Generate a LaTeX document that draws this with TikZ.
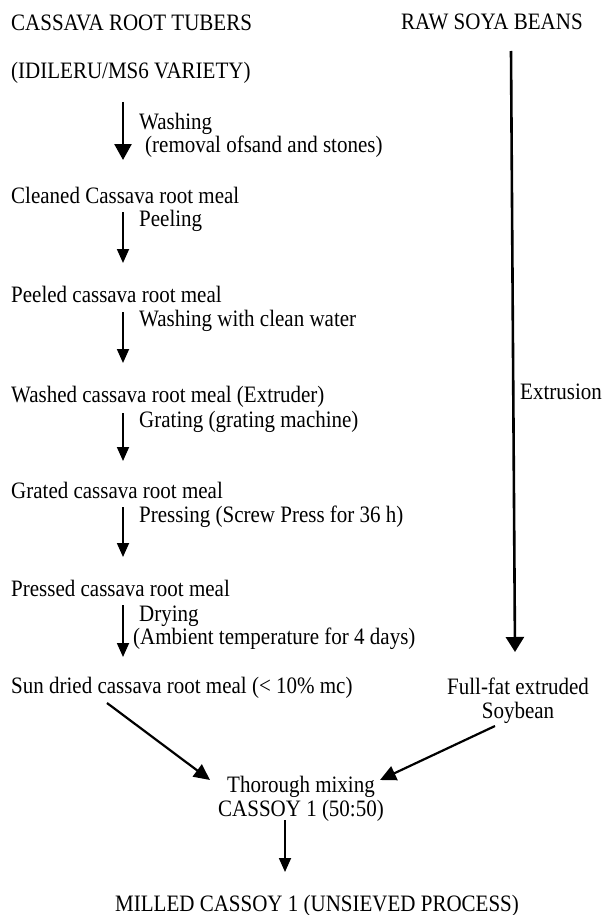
\documentclass[tikz,border=0pt]{standalone}
\usepackage{graphicx}
\usepackage{fontspec}
\setmainfont{Liberation Serif}
\usetikzlibrary{arrows.meta}
\newcommand{\sy}[1]{\scalebox{1}[1.12]{#1}}
\begin{document}
\begin{tikzpicture}[x=1pt,y=-1pt,
  lbl/.style={inner sep=0pt, anchor=base west, font=\fontsize{21}{25}\selectfont},
  ctr/.style={inner sep=0pt, align=center, anchor=north, font=\fontsize{21}{24}\selectfont},
  stepflow/.style={line width=1.8pt, -{Triangle[length=14pt,width=12pt]}},
  bigflow/.style={line width=2.6pt, -{Triangle[length=16pt,width=17pt]}},
  diagflow/.style={line width=2.2pt, -{Triangle[length=16pt,width=15pt]}}
]
\useasboundingbox (0,0) rectangle (603,915);

% texts
\node[lbl] (tubers) at (11,31) {\sy{CASSAVA ROOT TUBERS}};
\node[lbl] (soya) at (401,30) {\sy{RAW SOYA BEANS}};
\node[lbl] (variety) at (11,79) {\sy{(IDILERU/MS6 VARIETY)}};
\node[lbl] (wash1) at (139,130) {\sy{Washing}};
\node[lbl] (wash1b) at (145,153) {\sy{(removal ofsand and stones)}};
\node[lbl] (cleaned) at (11,203) {\sy{Cleaned Cassava root meal}};
\node[lbl] (peel) at (139,226) {\sy{Peeling}};
\node[lbl] (peeled) at (11,302) {\sy{Peeled cassava root meal}};
\node[lbl] (wash2) at (139,326) {\sy{Washing with clean water}};
\node[lbl] (washed) at (11,402) {\sy{Washed cassava root meal (Extruder)}};
\node[lbl] (grate) at (139,427) {\sy{Grating (grating machine)}};
\node[lbl] (grated) at (11,498) {\sy{Grated cassava root meal}};
\node[lbl] (press) at (139,522) {\sy{Pressing (Screw Press for 36 h)}};
\node[lbl] (pressed) at (11,596) {\sy{Pressed cassava root meal}};
\node[lbl] (dry) at (139,621) {\sy{Drying}};
\node[lbl] (dryb) at (133,644) {\sy{(Ambient temperature for 4 days)}};
\node[lbl] (sundried) at (11,693) {\sy{Sun dried cassava root meal (< 10\% mc)}};
\node[lbl] (extrusion) at (520,399) {\sy{Extrusion}};
\node[ctr] (fullfat) at (518,678) {\sy{Full-fat extruded}\\\sy{Soybean}};
\node[ctr] (mixing) at (301,776) {\sy{Thorough mixing}\\\sy{CASSOY 1 (50:50)}};
\node[lbl] (milled) at (115,911) {\sy{MILLED CASSOY 1 (UNSIEVED PROCESS)}};

% connector end points
\coordinate (a1s) at (123,102); \coordinate (a1e) at (123,160);
\coordinate (a2s) at (123,212); \coordinate (a2e) at (123,263);
\coordinate (a3s) at (123,312); \coordinate (a3e) at (123,363);
\coordinate (a4s) at (123,413); \coordinate (a4e) at (123,461);
\coordinate (a5s) at (123,507); \coordinate (a5e) at (123,557);
\coordinate (a6s) at (123,605); \coordinate (a6e) at (123,657);
\coordinate (ls) at (511,51); \coordinate (le) at (515,652);
\coordinate (d1s) at (107,703); \coordinate (d1e) at (210,780);
\coordinate (d2s) at (495,726); \coordinate (d2e) at (380,780);
\coordinate (ms) at (285,820); \coordinate (me) at (285,872);

\draw[bigflow] (a1s) -- (a1e);
\draw[stepflow] (a2s) -- (a2e);
\draw[stepflow] (a3s) -- (a3e);
\draw[stepflow] (a4s) -- (a4e);
\draw[stepflow] (a5s) -- (a5e);
\draw[stepflow] (a6s) -- (a6e);
\draw[line width=2.6pt, -{Triangle[length=15pt,width=18pt]}] (ls) -- (le);
\draw[diagflow] (d1s) -- (d1e);
\draw[diagflow] (d2s) -- (d2e);
\draw[stepflow] (ms) -- (me);
\end{tikzpicture}
\end{document}
